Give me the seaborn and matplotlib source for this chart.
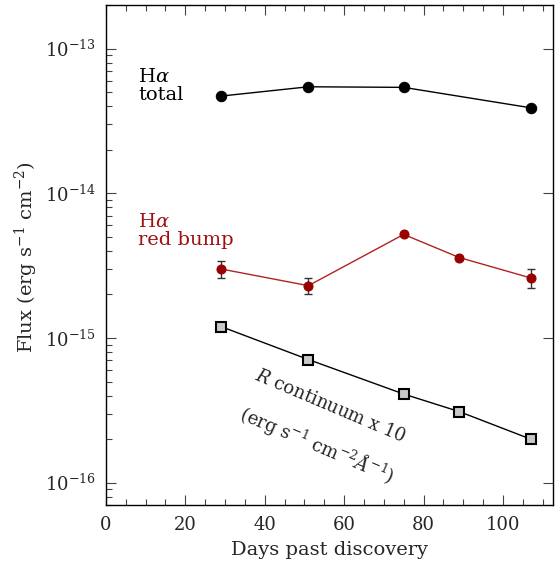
import numpy as np
import pandas as pd
import matplotlib
matplotlib.use("Agg")
import matplotlib.pyplot as plt
import seaborn as sns
from matplotlib.ticker import FixedLocator, MultipleLocator, NullFormatter, LogFormatterMathtext

# ---- data ----
days_total = [29, 51, 75, 107]
flux_total = [4.7e-14, 5.45e-14, 5.4e-14, 3.9e-14]

days_red = [29, 51, 75, 89, 107]
flux_red = [3.0e-15, 2.3e-15, 5.2e-15, 3.6e-15, 2.6e-15]
err_red = [0.4e-15, 0.3e-15, 0.0, 0.0, 0.4e-15]

days_cont = [29, 51, 75, 89, 107]
flux_cont = [1.2e-15, 7.1e-16, 4.1e-16, 3.1e-16, 2.0e-16]

y_major = [1e-16, 1e-15, 1e-14, 1e-13]

sns.set_theme(style="ticks")
plt.rcParams['font.family'] = ['DejaVu Serif']
plt.rcParams['mathtext.fontset'] = 'dejavuserif'

fig = plt.figure(figsize=(5.6, 5.65), dpi=100)
ax = fig.add_axes([0.189, 0.106, 0.7985, 0.885])

df_t = pd.DataFrame({"day": days_total, "flux": flux_total})
df_r = pd.DataFrame({"day": days_red, "flux": flux_red})
df_c = pd.DataFrame({"day": days_cont, "flux": flux_cont})

sns.lineplot(data=df_t, x="day", y="flux", ax=ax, color="black", lw=1.0,
             marker="o", markersize=7.5, markeredgecolor="black", markerfacecolor="black")

ax.errorbar(days_red, flux_red, yerr=err_red, fmt="none", ecolor="#333333",
            elinewidth=1.0, capsize=3, capthick=1.0, zorder=2)
sns.lineplot(data=df_r, x="day", y="flux", ax=ax, color="#b22222", lw=1.0,
             marker="o", markersize=6.5, markeredgecolor="#990000",
             markerfacecolor="#990000", zorder=3)

sns.lineplot(data=df_c, x="day", y="flux", ax=ax, color="black", lw=1.0,
             marker="s", markersize=7, markeredgecolor="black",
             markeredgewidth=1.5, markerfacecolor="#c8c8c8", zorder=3)

ax.set_yscale("log")
ax.set_xlim(0, 112.6)
ax.set_ylim(7.0e-17, 2.0e-13)

ax.xaxis.set_major_locator(MultipleLocator(20))
ax.xaxis.set_minor_locator(MultipleLocator(5))
ymin, ymax = ax.get_ylim()
minors = [m * d for d in [1e-17, 1e-16, 1e-15, 1e-14, 1e-13] for m in range(2, 10)
          if ymin <= m * d <= ymax]
ax.yaxis.set_major_locator(FixedLocator(y_major))
ax.yaxis.set_major_formatter(LogFormatterMathtext())
ax.yaxis.set_minor_locator(FixedLocator(minors))
ax.yaxis.set_minor_formatter(NullFormatter())

ax.tick_params(axis="both", which="major", direction="in", length=7, width=0.8,
               labelsize=13, top=True, right=True, color="#444444")
ax.tick_params(axis="x", which="major", pad=8)
ax.tick_params(axis="y", which="major", pad=7)
ax.tick_params(axis="both", which="minor", direction="in", length=4, width=0.8,
               top=True, right=False, color="#444444")
ax.tick_params(axis="y", which="minor", left=True, right=False)
for s in ax.spines.values():
    s.set_linewidth(1.0)
    s.set_color("black")

ax.set_xlabel("Days past discovery", fontsize=14, labelpad=5)
ax.set_ylabel(r"Flux (erg s$^{-1}$ cm$^{-2}$)", fontsize=14)
ax.yaxis.set_label_coords(-0.148, 0.496)

fig.text(138 / 560, 1 - 86 / 565, r"H$\alpha$" + "\ntotal", fontsize=14,
         color="black", va="center", ha="left", linespacing=1.0)
fig.text(138 / 560, 1 - 231 / 565, r"H$\alpha$" + "\nred bump", fontsize=14,
         color="#a01010", va="center", ha="left", linespacing=1.0)

fig.text(330 / 560, 1 - 406 / 565, r"$R$ continuum x 10", fontsize=13,
         rotation=-23, rotation_mode="anchor", ha="center", va="center")
fig.text(317 / 560, 1 - 445 / 565,
         r"(erg s$^{-1}$ cm$^{-2}$$\AA^{-1}$)", fontsize=13,
         rotation=-23, rotation_mode="anchor", ha="center", va="center")

fig.savefig("out.png", dpi=100)
